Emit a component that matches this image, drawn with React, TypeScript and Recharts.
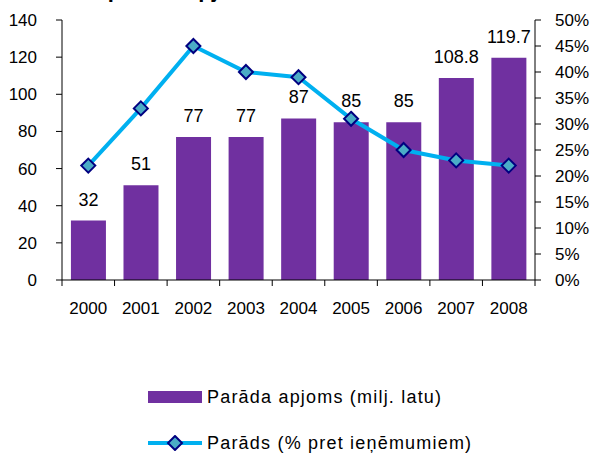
import React from 'react'
import { ComposedChart, Bar, Line, XAxis, YAxis, LabelList } from 'recharts'

const years = ['2000', '2001', '2002', '2003', '2004', '2005', '2006', '2007', '2008']
const debtAmount = [32, 51, 77, 77, 87, 85, 85, 108.8, 119.7]
const debtPercent = [22, 33, 45, 40, 39, 31, 25, 23, 22]
const amountTicks = [0, 20, 40, 60, 80, 100, 120, 140]
const percentTicks = [0, 5, 10, 15, 20, 25, 30, 35, 40, 45, 50]

const barName = 'Parāda apjoms (milj. latu)'
const lineName = 'Parāds (% pret ieņēmumiem)'

const chartData = years.map((year, i) => ({
  year,
  amount: debtAmount[i],
  percent: debtPercent[i],
}))

const FONT = '"Liberation Sans", Arial, sans-serif'

// diamond marker like the excel one
const Diamond = (props: any) => {
  const { cx, cy } = props
  if (cx == null || cy == null) return null
  const r = 7
  return (
    <polygon
      points={`${cx},${cy - r} ${cx + r},${cy} ${cx},${cy + r} ${cx - r},${cy}`}
      fill="#4BACC6"
      stroke="#000080"
      strokeWidth={2}
    />
  )
}

// year label in the middle, tick marks on category boundaries
const YearTick = (props: any) => {
  const { x, y, payload, index, width, visibleTicksCount } = props
  const band = width / visibleTicksCount
  const top = y - 8
  return (
    <g>
      <line x1={x - band / 2} y1={top} x2={x - band / 2} y2={top + 6} stroke="#000" />
      {index === visibleTicksCount - 1 && (
        <line x1={x + band / 2} y1={top} x2={x + band / 2} y2={top + 6} stroke="#000" />
      )}
      <text x={x} y={y + 26} textAnchor="middle" fontSize={17} fill="#000" fontFamily={FONT}>
        {payload.value}
      </text>
    </g>
  )
}

const LegendBox = () => (
  <div style={{ fontFamily: FONT, fontSize: 18, letterSpacing: 1.2, color: '#000' }}>
    <div style={{ display: 'flex', alignItems: 'center', height: 22 }}>
      <div style={{ width: 54, height: 12, background: '#7030A0', marginRight: 5 }} />
      <span>{barName}</span>
    </div>
    <div style={{ display: 'flex', alignItems: 'center', height: 22, marginTop: 24 }}>
      <svg width={54} height={16} style={{ marginRight: 5 }}>
        <line x1={0} y1={8} x2={54} y2={8} stroke="#00B0F0" strokeWidth={4} />
        <Diamond cx={27} cy={8} />
      </svg>
      <span>{lineName}</span>
    </div>
  </div>
)

export default function App() {
  return (
    <div style={{ position: 'absolute', left: 0, top: 0, width: 595, height: 455, overflow: 'hidden', background: '#fff' }}>
      {/* title is cut off at the top in the original too */}
      <div
        style={{
          position: 'absolute',
          left: 38,
          top: -23,
          fontFamily: FONT,
          fontWeight: 'bold',
          fontSize: 22,
          whiteSpace: 'nowrap',
        }}
      >
        Valsts parāda apjoms
      </div>
      <ComposedChart
        width={595}
        height={455}
        data={chartData}
        margin={{ top: 20, right: 0, left: 0, bottom: 130 }}
        barCategoryGap="17%"
      >
        <XAxis
          dataKey="year"
          height={45}
          axisLine={{ stroke: '#000' }}
          tickLine={false}
          tick={<YearTick />}
          interval={0}
        />
        <YAxis
          yAxisId="left"
          width={62}
          domain={[0, 140]}
          ticks={amountTicks}
          interval={0}
          axisLine={{ stroke: '#000' }}
          tickLine={{ stroke: '#000' }}
          tickSize={6}
          tickMargin={19}
          tick={{ fontSize: 17, fill: '#000', fontFamily: FONT }}
        />
        <YAxis
          yAxisId="right"
          orientation="right"
          width={60}
          domain={[0, 50]}
          ticks={percentTicks}
          interval={0}
          tickFormatter={(v: number) => `${v}%`}
          axisLine={{ stroke: '#000' }}
          tickLine={{ stroke: '#000' }}
          tickSize={6}
          tickMargin={14}
          tick={{ fontSize: 17, fill: '#000', fontFamily: FONT, textAnchor: 'start' }}
        />
        <Bar yAxisId="left" dataKey="amount" name={barName} fill="#7030A0" isAnimationActive={false}>
          <LabelList
            dataKey="amount"
            position="top"
            offset={15}
            fontSize={18}
            fill="#000"
            fontFamily={FONT}
          />
        </Bar>
        <Line
          yAxisId="right"
          dataKey="percent"
          name={lineName}
          stroke="#00B0F0"
          strokeWidth={4}
          dot={<Diamond />}
          activeDot={false}
          isAnimationActive={false}
        />
      </ComposedChart>
      <div style={{ position: 'absolute', left: 148, top: 386, width: 400 }}>
        <LegendBox />
      </div>
    </div>
  )
}
